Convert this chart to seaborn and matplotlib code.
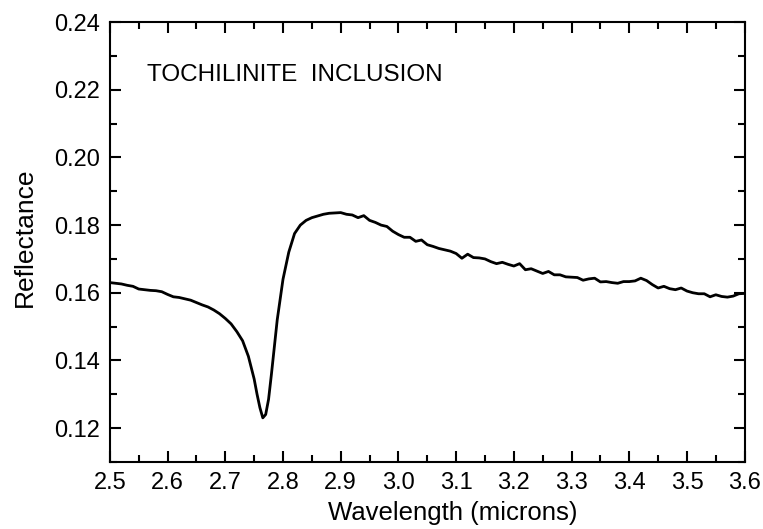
import matplotlib
matplotlib.use("Agg")
import matplotlib.pyplot as plt
from matplotlib.ticker import MultipleLocator
import numpy as np
import pandas as pd
import seaborn as sns

# spectrum
wavelength = [2.50, 2.51, 2.52, 2.53, 2.54, 2.55, 2.56, 2.57, 2.58, 2.59,
              2.60, 2.61, 2.62, 2.63, 2.64, 2.65, 2.66, 2.67, 2.68, 2.69,
              2.70, 2.71, 2.72, 2.73, 2.74, 2.75, 2.755, 2.76, 2.765, 2.77,
              2.775, 2.78, 2.79, 2.80, 2.81, 2.82, 2.83, 2.84, 2.85, 2.86,
              2.87, 2.88, 2.89, 2.90, 2.91, 2.92, 2.93, 2.94, 2.95, 2.96,
              2.97, 2.98, 2.99, 3.00, 3.01, 3.02, 3.03, 3.04, 3.05, 3.06,
              3.07, 3.08, 3.09, 3.10, 3.11, 3.12, 3.13, 3.14, 3.15, 3.16,
              3.17, 3.18, 3.19, 3.20, 3.21, 3.22, 3.23, 3.24, 3.25, 3.26,
              3.27, 3.28, 3.29, 3.30, 3.31, 3.32, 3.33, 3.34, 3.35, 3.36,
              3.37, 3.38, 3.39, 3.40, 3.41, 3.42, 3.43, 3.44, 3.45, 3.46,
              3.47, 3.48, 3.49, 3.50, 3.51, 3.52, 3.53, 3.54, 3.55, 3.56,
              3.57, 3.58, 3.59, 3.60]
reflectance = [0.1630, 0.1628, 0.1626, 0.1622, 0.1619, 0.1611, 0.1609, 0.1607, 0.1606, 0.1603,
               0.1595, 0.1588, 0.1586, 0.1582, 0.1578, 0.1571, 0.1564, 0.1558, 0.1549, 0.1538,
               0.1524, 0.1508, 0.1485, 0.1458, 0.1412, 0.1345, 0.1300, 0.1260, 0.1230, 0.1240,
               0.1285, 0.1360, 0.1520, 0.1640, 0.1720, 0.1775, 0.1800, 0.1814, 0.1822, 0.1827,
               0.1832, 0.1835, 0.1836, 0.1837, 0.1832, 0.1830, 0.1822, 0.1828, 0.1814, 0.1808,
               0.1800, 0.1796, 0.1782, 0.1772, 0.1764, 0.1764, 0.1752, 0.1756, 0.1742, 0.1737,
               0.1731, 0.1727, 0.1723, 0.1716, 0.1702, 0.1714, 0.1704, 0.1703, 0.1700, 0.1692,
               0.1686, 0.1690, 0.1684, 0.1679, 0.1686, 0.1668, 0.1671, 0.1664, 0.1657, 0.1663,
               0.1653, 0.1653, 0.1647, 0.1646, 0.1645, 0.1637, 0.1641, 0.1643, 0.1632, 0.1633,
               0.1630, 0.1628, 0.1633, 0.1633, 0.1635, 0.1643, 0.1636, 0.1624, 0.1614, 0.1619,
               0.1612, 0.1609, 0.1614, 0.1605, 0.1600, 0.1597, 0.1597, 0.1588, 0.1594, 0.1589,
               0.1587, 0.1590, 0.1597, 0.1598]

df = pd.DataFrame({'wavelength': wavelength, 'reflectance': reflectance})

sns.set_style('ticks')
plt.rcParams['font.family'] = ['Liberation Sans', 'DejaVu Sans']
plt.rcParams['text.color'] = 'black'
plt.rcParams['axes.labelcolor'] = 'black'
plt.rcParams['xtick.color'] = 'black'
plt.rcParams['ytick.color'] = 'black'

fig = plt.figure(figsize=(7.63, 5.29), dpi=100)
ax = fig.add_axes([0.144, 0.127, 0.832, 0.831])

sns.lineplot(data=df, x='wavelength', y='reflectance', color='black',
             linewidth=2, ax=ax)

ax.set_xlim(2.5, 3.6)
ax.set_ylim(0.11, 0.24)
ax.xaxis.set_major_locator(MultipleLocator(0.1))
ax.xaxis.set_minor_locator(MultipleLocator(0.05))
ax.yaxis.set_major_locator(MultipleLocator(0.02))
ax.yaxis.set_minor_locator(MultipleLocator(0.01))
ax.xaxis.set_major_formatter(plt.FormatStrFormatter('%.1f'))
ax.yaxis.set_major_formatter(plt.FormatStrFormatter('%.2f'))

ax.tick_params(which='both', direction='in', top=True, right=True,
               width=1.5, labelsize=17)
ax.tick_params(which='major', length=8)
ax.tick_params(axis='x', which='major', pad=7)
ax.tick_params(axis='y', which='major', pad=7)
ax.tick_params(which='minor', length=5)
for s in ax.spines.values():
    s.set_linewidth(1.5)
    s.set_color('black')

ax.set_xlabel('Wavelength (microns)', fontsize=18.5)
ax.set_ylabel('Reflectance', fontsize=19)
# labels sit a bit off-centre in the original
ax.xaxis.set_label_coords(0.54, -0.09)
ax.yaxis.set_label_coords(-0.115, 0.51)

ax.text(2.564, 0.2245, 'TOCHILINITE  INCLUSION', fontsize=17.5,
        va='center', ha='left')

fig.savefig('out.png', dpi=100)
